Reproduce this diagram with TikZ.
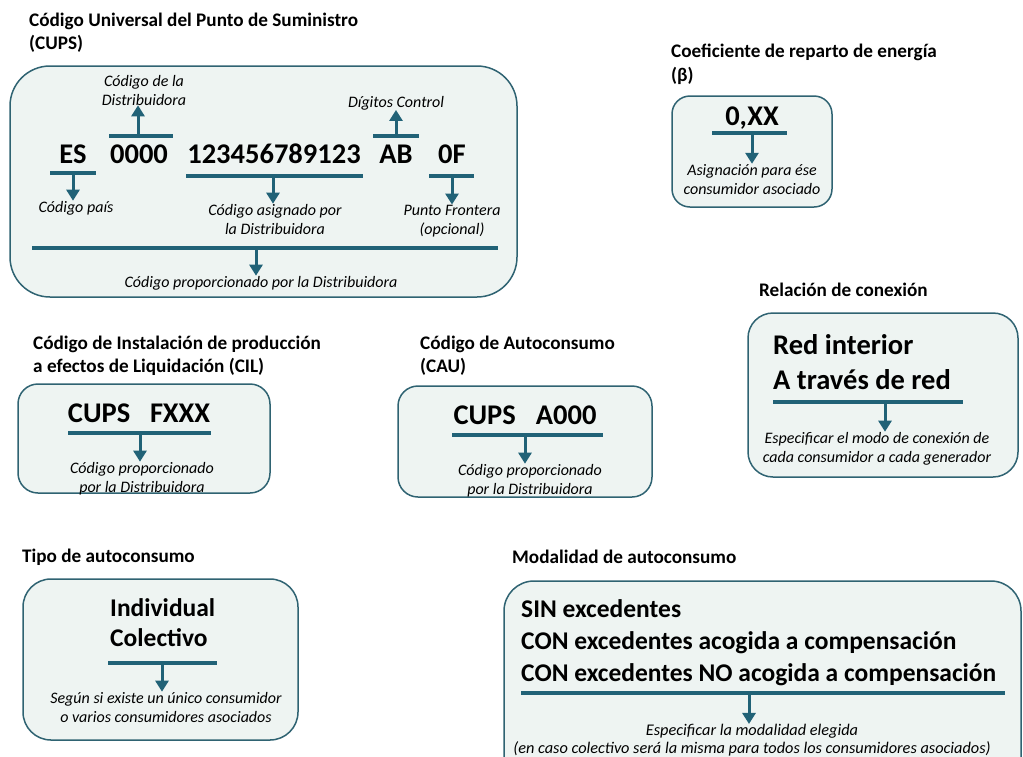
\documentclass[tikz,border=0pt]{standalone}
\usepackage{fontspec}
\setmainfont{Carlito}
\usetikzlibrary{arrows.meta}
\definecolor{panelline}{HTML}{2F6372}
\definecolor{panelfill}{HTML}{EEF4F2}
\definecolor{barcolor}{HTML}{216277}
\tikzstyle{panel}=[draw=panelline, fill=panelfill, line width=1.5pt]
\tikzstyle{heading}=[anchor=base west, inner sep=0pt, align=left, font=\bfseries\fontsize{19.2}{23}\selectfont]
\tikzstyle{code}=[anchor=base, inner sep=0pt, font=\bfseries\fontsize{28.5}{35}\selectfont]
\tikzstyle{option}=[anchor=base west, inner sep=0pt, align=left, font=\bfseries\fontsize{25.5}{30}\selectfont]
\tikzstyle{note}=[anchor=base, inner sep=0pt, align=center, font=\itshape\fontsize{16}{19}\selectfont]
\tikzstyle{codebar}=[draw=barcolor, line width=3.5pt]
\tikzstyle{pointer}=[draw=barcolor, line width=3pt, -{Triangle[width=13pt,length=11pt]}]

\begin{document}
\begin{tikzpicture}[x=1pt, y=-1pt]
  \useasboundingbox (0,0) rectangle (1023,756);

  % CUPS (multi-line nodes are placed by their last baseline)
  \node[heading] (cups_title) at (29,49) {Código Universal del Punto de Suministro\\(CUPS)};
  \draw[panel, rounded corners=40pt] (10,66) rectangle (517,297);
  \node[code] (es) at (73,163) {ES};
  \node[code] (zeros) at (139,163) {0000};
  \node[code] (digits) at (274,163) {123456789123};
  \node[code] (ab) at (396,163) {AB};
  \node[code] (of) at (452,163) {0F};
  \node[note] (pais) at (76,212) {Código país};
  \node[note] (distname) at (144,105) {Código de la\\Distribuidora};
  \node[note] (asignado) at (275,234) {Código asignado por\\la Distribuidora};
  \node[note] (control) at (396,107) {Dígitos Control};
  \node[note] (frontera) at (452,234) {Punto Frontera\\(opcional)};
  \node[note] (cups_note) at (261,287) {Código proporcionado por la Distribuidora};
  \coordinate (es_bar) at (73,173);
  \coordinate (zeros_bar) at (138,136);
  \coordinate (digits_bar) at (273,176);
  \coordinate (ab_bar) at (396,136);
  \coordinate (of_bar) at (452,176);
  \coordinate (cups_bar) at (256,248);
  \draw[codebar] (50,173) -- (96,173);
  \draw[codebar] (109,136) -- (173,136);
  \draw[codebar] (186,176) -- (363,176);
  \draw[codebar] (373,136) -- (419,136);
  \draw[codebar] (429,176) -- (474,176);
  \draw[codebar] (32,248) -- (498,248);
  \draw[pointer] (es_bar) -- (es_bar |- pais.north);
  \draw[pointer] (zeros_bar) -- (zeros_bar |- distname.south);
  \draw[pointer] (digits_bar) -- (digits_bar |- asignado.north);
  \draw[pointer] (ab_bar) -- (ab_bar |- control.south);
  \draw[pointer] (of_bar) -- (of_bar |- frontera.north);
  \draw[pointer] (cups_bar) -- (cups_bar |- cups_note.north);

  % coeficiente de reparto
  \node[heading, font=\bfseries\fontsize{19.2}{24}\selectfont] (beta_title) at (671,81) {Coeficiente de reparto de energía\\(β)};
  \draw[panel, rounded corners=18pt] (672,96) rectangle (832,207);
  \node[code] (xx) at (752,125) {0,XX};
  \node[note] (beta_note) at (752,194) {Asignación para ése\\consumidor asociado};
  \coordinate (xx_bar) at (752,133);
  \draw[codebar] (712,133) -- (787,133);
  \draw[pointer] (xx_bar) -- (xx_bar |- beta_note.north);

  % CIL
  \node[heading] (cil_title) at (33,372) {Código de Instalación de producción\\a efectos de Liquidación (CIL)};
  \draw[panel, rounded corners=20pt] (18,384) rectangle (270,493);
  \node[code] (cil_code) at (139,422) {CUPS\hspace{20pt}FXXX};
  \node[note] (cil_note) at (142,492) {Código proporcionado\\por la Distribuidora};
  \coordinate (cil_bar) at (140,433);
  \draw[codebar] (68,433) -- (211,433);
  \draw[pointer] (cil_bar) -- (cil_bar |- cil_note.north);

  % CAU
  \node[heading] (cau_title) at (420,372) {Código de Autoconsumo\\(CAU)};
  \draw[panel, rounded corners=20pt] (398,386) rectangle (652,497);
  \node[code] (cau_code) at (525,424) {CUPS\hspace{20pt}A000};
  \node[note] (cau_note) at (530,494) {Código proporcionado\\por la Distribuidora};
  \coordinate (cau_bar) at (525,435);
  \draw[codebar] (452,435) -- (603,435);
  \draw[pointer] (cau_bar) -- (cau_bar |- cau_note.north);

  % relacion de conexion
  \node[heading] (rel_title) at (759,296) {Relación de conexión};
  \draw[panel, rounded corners=25pt] (748,313) rectangle (1018,477);
  \node[code, anchor=base west, align=left] (rel_code) at (773,389) {Red interior\\A través de red};
  \node[note] (rel_note) at (877,462) {Especificar el modo de conexión de\\cada consumidor a cada generador};
  \coordinate (rel_bar) at (885,402);
  \draw[codebar] (773,402) -- (963,402);
  \draw[pointer] (rel_bar) -- (rel_bar |- rel_note.north);

  % tipo de autoconsumo
  \node[heading] (tipo_title) at (22,562) {Tipo de autoconsumo};
  \draw[panel, rounded corners=28pt] (23,579) rectangle (298,740);
  \node[option] (tipo_code) at (110,646) {Individual\\Colectivo};
  \node[note] (tipo_note) at (166,722) {Según si existe un único consumidor\\o varios consumidores asociados};
  \coordinate (tipo_bar) at (162,663);
  \draw[codebar] (108,663) -- (217,663);
  \draw[pointer] (tipo_bar) -- (tipo_bar |- tipo_note.north);

  % modalidad
  \node[heading] (mod_title) at (512,563) {Modalidad de autoconsumo};
  \draw[panel, rounded corners=30pt] (504,581) rectangle (1021,790);
  \node[option, font=\bfseries\fontsize{25.5}{32}\selectfont] (mod_code) at (521,681) {SIN excedentes\\CON excedentes acogida a compensación\\CON excedentes NO acogida a compensación};
  \node[note, font=\itshape\fontsize{16.3}{17.5}\selectfont] (mod_note) at (752,753) {Especificar la modalidad elegida\\(en caso colectivo será la misma para todos los consumidores asociados)};
  \coordinate (mod_bar) at (749,693);
  \draw[codebar] (521,693) -- (1005,693);
  \draw[pointer] (mod_bar) -- (mod_bar |- mod_note.north);
\end{tikzpicture}
\end{document}
